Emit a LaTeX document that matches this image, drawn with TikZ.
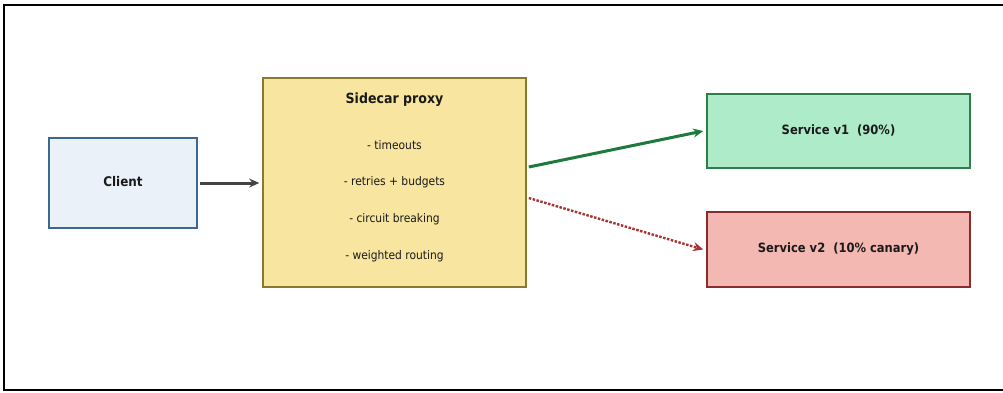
\documentclass[tikz,border=0pt]{standalone}
\usepackage{fontspec}
\setmainfont{DejaVu Sans}[FakeStretch=0.9]
\usetikzlibrary{arrows.meta}
\definecolor{clientfill}{HTML}{EAF1F9}
\definecolor{clientdraw}{HTML}{3B6790}
\definecolor{proxyfill}{HTML}{F8E6A0}
\definecolor{proxydraw}{HTML}{8A7A2E}
\definecolor{v1fill}{HTML}{ADEBC9}
\definecolor{v1draw}{HTML}{2E7D4A}
\definecolor{v2fill}{HTML}{F4B8B3}
\definecolor{v2draw}{HTML}{8B2C2C}
\definecolor{arrgray}{HTML}{444444}
\definecolor{arrgreen}{HTML}{1E7A3C}
\definecolor{arrred}{HTML}{A33535}
\definecolor{txt}{HTML}{1A1A1A}
\tikzset{
  box/.style={draw, line width=1.6pt, inner sep=0pt},
  boldlbl/.style={font=\bfseries\fontsize{13.3}{15}\selectfont, text=txt},
  itemlbl/.style={font=\fontsize{11.9}{13}\selectfont, text=txt},
  tip/.style={-{Stealth[length=10pt,width=9pt]}},
}
\begin{document}
\begin{tikzpicture}[x=1pt,y=-1pt]
\useasboundingbox (0,0) rectangle (1003,392);
\fill[white] (0,0) rectangle (1003,392);
\draw[line width=2.5pt, black] (1003,5) -- (4,5) -- (4,390) -- (1003,390);
% boxes
\node[box, fill=clientfill, draw=clientdraw, minimum width=148pt, minimum height=90pt] (client) at (123,183) {};
\node[box, fill=proxyfill, draw=proxydraw, minimum width=263pt, minimum height=209pt] (proxy) at (394.5,182.5) {};
\node[box, fill=v1fill, draw=v1draw, minimum width=263pt, minimum height=74pt] (v1) at (838.5,131) {};
\node[box, fill=v2fill, draw=v2draw, minimum width=263pt, minimum height=75pt] (v2) at (838.5,249.5) {};
% labels
\node[boldlbl] (clientlbl) at (123,182) {Client};
\node[boldlbl, font=\bfseries\fontsize{14}{16}\selectfont] (title) at (394.5,100) {Sidecar proxy};
\node[itemlbl] (i1) at (394.5,145) {- timeouts};
\node[itemlbl] (i2) at (394.5,182) {- retries + budgets};
\node[itemlbl] (i3) at (394.5,219) {- circuit breaking};
\node[itemlbl] (i4) at (394.5,256) {- weighted routing};
\node[boldlbl, font=\bfseries\fontsize{12.8}{14}\selectfont] (v1lbl) at (838.5,130) {Service v1\ \ (90\%)};
\node[boldlbl, font=\bfseries\fontsize{12.8}{14}\selectfont] (v2lbl) at (838.5,249) {Service v2\ \ (10\% canary)};
% connectors
\coordinate (pa) at ([xshift=2pt]proxy.east |- 0,167);
\coordinate (pb) at ([xshift=2pt]proxy.east |- 0,198);
\draw[tip, line width=3pt, draw=arrgray] ([xshift=2pt]client.east) -- ([xshift=-3pt]proxy.west |- client.east);
\draw[tip, line width=3pt, draw=arrgreen] (pa) -- ([xshift=-3pt]v1.west);
\draw[tip, line width=2.4pt, draw=arrred, dash pattern=on 2.5pt off 1.5pt] (pb) -- ([xshift=-3pt]v2.west);
\end{tikzpicture}
\end{document}
